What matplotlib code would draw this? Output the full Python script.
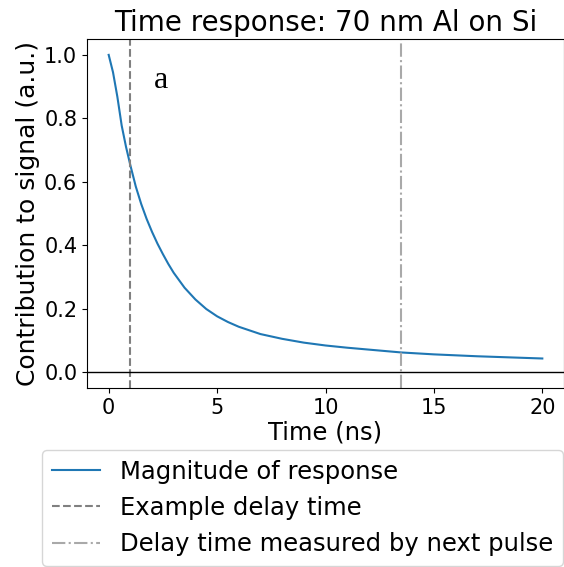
import matplotlib
matplotlib.use('Agg')
import matplotlib.pyplot as plt

# time (ns) and response magnitude
t = [0, 0.2, 0.4, 0.6, 0.8, 1.0, 1.25, 1.5, 1.75, 2.0, 2.25, 2.5, 2.75,
     3.0, 3.5, 4.0, 4.5, 5.0, 5.5, 6.0, 7.0, 8.0, 9.0, 10, 11, 12, 13.5,
     15, 17, 20]
resp = [1.0, 0.945, 0.868, 0.777, 0.71, 0.652, 0.585, 0.53, 0.483, 0.442,
        0.405, 0.372, 0.341, 0.313, 0.266, 0.229, 0.199, 0.176, 0.158, 0.143,
        0.12, 0.105, 0.093, 0.084, 0.077, 0.071, 0.062, 0.056, 0.05, 0.043]
example_delay = 1.0
next_pulse_delay = 13.5

fig = plt.figure(figsize=(5.64, 5.67), dpi=100)
ax = fig.add_axes([87/564, 179/567, 477/564, 349/567])

ax.plot(t, resp, color='#1f77b4', label='Magnitude of response')
ax.axvline(example_delay, color='gray', linestyle='--', label='Example delay time')
ax.axvline(next_pulse_delay, color='darkgray', linestyle='-.',
           label='Delay time measured by next pulse')
ax.axhline(0, color='black', linewidth=1)
ax.text(2.1, 0.895, 'a', family='Liberation Serif', fontsize=23)

ax.set_xlim(-1, 21)
ax.set_ylim(-0.05, 1.05)
ax.set_xticks([0, 5, 10, 15, 20])
ax.tick_params(labelsize=15)
ax.set_title('Time response: 70 nm Al on Si', fontsize=20)
ax.set_xlabel('Time (ns)', fontsize=17.5, labelpad=2)
ax.set_ylabel('Contribution to signal (a.u.)', fontsize=18, labelpad=3)

fig.legend(loc='upper left', bbox_to_anchor=(42/564, 1 - 450/567),
           borderaxespad=0, fontsize=17.5)

plt.savefig('out.png')
